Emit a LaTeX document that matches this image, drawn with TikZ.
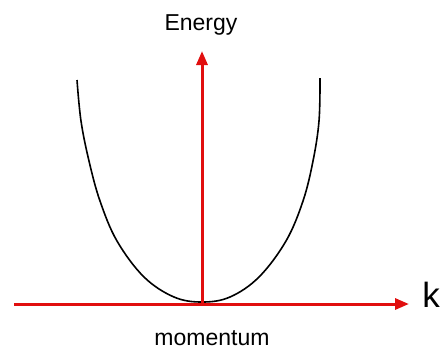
\documentclass[tikz,border=0pt]{standalone}
\usepackage{fontspec}
\setmainfont{Liberation Sans}
\usetikzlibrary{arrows.meta}
\definecolor{axisred}{RGB}{225,15,15}
\tikzset{
  axis/.style={draw=axisred, line width=3pt, -{Triangle[length=14pt,width=11pt]}},
  curve/.style={draw=black, line width=1.6pt},
  lbl/.style={inner sep=0pt, anchor=base, text=black}
}
\begin{document}
\begin{tikzpicture}[x=1pt,y=-1pt]
\useasboundingbox (0,0) rectangle (443,349);
\coordinate (origin) at (202,304);
\coordinate (xstart) at (14,304);
\coordinate (xend) at (409,304);
\coordinate (ytop) at (202,51);
\draw[curve] plot[smooth, tension=0.6] coordinates {(77,80) (81,121) (89,161) (100,201) (117,241) (144,277) (174,297) (202,302) (230,297) (259,277) (286,241) (303,201) (313,161) (319,121) (320,78)};
\draw[axis] (xstart) -- (xend);
\draw[axis] (origin) -- (ytop);
\node[lbl, font=\fontsize{23}{27}\selectfont] (energy) at (201,30) {Energy};
\node[lbl, font=\fontsize{23}{27}\selectfont] (momentum) at (212,345) {momentum};
\node[lbl, font=\fontsize{35}{40}\selectfont] (k) at (431,307) {k};
\end{tikzpicture}
\end{document}
